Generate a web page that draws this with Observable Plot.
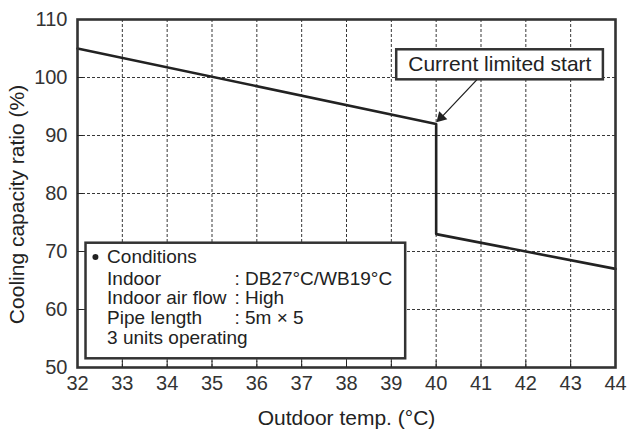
<!DOCTYPE html>
<html>
<head>
<meta charset="utf-8">
<script src="https://cdn.jsdelivr.net/npm/d3@7"></script>
<script src="https://cdn.jsdelivr.net/npm/@observablehq/plot@0.6"></script>
<style>
  html, body { margin: 0; padding: 0; background: #fff; }
  #chart svg { display: block; }
</style>
</head>
<body>
<div id="chart"></div>
<script>
// ---- data ----
const outdoorTemp = [32, 40, 40, 44];
const capacityRatio = [105, 92, 73, 67];
const xTicks = [32, 33, 34, 35, 36, 37, 38, 39, 40, 41, 42, 43, 44];
const yTicks = [50, 60, 70, 80, 90, 100, 110];
const annotationText = ["Current limited start"];
const conditionsTitle = ["Conditions"];
const conditionLabels = ["Indoor", "Indoor air flow", "Pipe length", "3 units operating"];
const conditionValues = [": DB27°C/WB19°C", ": High", ": 5m × 5", ""];
const xLabel = "Outdoor temp. (°C)";
const yLabel = "Cooling capacity ratio (%)";

const series = outdoorTemp.map((t, i) => ({temp: t, ratio: capacityRatio[i]}));
const ink = "#222";
const font = "'Liberation Sans', Arial, Helvetica, sans-serif";

const chart = Plot.plot({
  width: 628,
  height: 432,
  marginLeft: 77,
  marginRight: 13,
  marginTop: 19,
  marginBottom: 65,
  style: {fontFamily: font, color: ink, background: "#fff"},
  x: {domain: [32, 44], ticks: xTicks, label: null},
  y: {domain: [50, 110], ticks: yTicks, label: null},
  marks: [
    Plot.gridX(xTicks, {stroke: "#222", strokeOpacity: 0.9, strokeWidth: 1, strokeDasharray: "3,2"}),
    Plot.gridY(yTicks, {stroke: "#222", strokeOpacity: 0.9, strokeWidth: 1, strokeDasharray: "3,2"}),
    Plot.line(series, {x: "temp", y: "ratio", stroke: ink, strokeWidth: 2.6}),
    // conditions box
    Plot.rect(conditionsTitle, {x1: 32.19, x2: 39.32, y1: 51.5, y2: 71.43, fill: "#fff", stroke: "#333", strokeWidth: 2.5}),
    Plot.dot(conditionsTitle, {x: 32.40, y: 69.05, r: 3, fill: ink, stroke: null}),
    Plot.text(conditionsTitle, {x: 32.66, y: 68.0, text: d => d, textAnchor: "start", lineAnchor: "bottom", fontSize: 19, fill: ink}),
    Plot.text(conditionLabels, {x: 32.66, y: (d, i) => 64.3 - i * 3.4, text: d => d, textAnchor: "start", lineAnchor: "bottom", fontSize: 19, fill: ink}),
    Plot.text(conditionValues, {x: 35.50, y: (d, i) => 64.3 - i * 3.4, text: d => d, textAnchor: "start", lineAnchor: "bottom", fontSize: 19, fill: ink}),
    // annotation box
    Plot.rect(annotationText, {x1: 39.12, x2: 43.73, y1: 99.6, y2: 104.78, fill: "#fff", stroke: "#333", strokeWidth: 2.5}),
    Plot.text(annotationText, {x: 41.42, y: 101.2, text: d => d, textAnchor: "middle", lineAnchor: "bottom", fontSize: 21, fill: ink}),
    Plot.arrow(annotationText, {x1: 40.90, y1: 99.55, x2: 40.11, y2: 93.09, stroke: ink, strokeWidth: 1.3, headLength: 0}),
    Plot.dot(annotationText, {x: 40.108, y: 93.09, symbol: "triangle", r: 4.2, rotate: 224, fill: ink, stroke: null}),
    // frame and inward ticks
    Plot.frame({stroke: "#333", strokeWidth: 2.6}),
    Plot.ruleX(xTicks.slice(1, -1), {x: d => d, y1: 50, y2: 51.1, stroke: ink, strokeWidth: 1}),
    Plot.ruleY(yTicks.slice(1, -1), {y: d => d, x1: 32, x2: 32.14, stroke: ink, strokeWidth: 1}),
    // axes
    Plot.axisX(xTicks, {tickSize: 0, tickPadding: 8, fontSize: 20, fill: "#333", label: null}),
    Plot.axisY(yTicks, {tickSize: 0, tickPadding: 10, fontSize: 20, fill: "#333", label: null}),
    Plot.text([xLabel], {frameAnchor: "bottom", dy: 57, text: d => d, fontSize: 21, fill: ink, lineAnchor: "bottom"}),
    Plot.text([yLabel], {y: 78.1, frameAnchor: "left", dx: -60, rotate: -90, text: d => d, fontSize: 21, fill: ink, textAnchor: "middle", lineAnchor: "middle"})
  ]
});
document.getElementById("chart").appendChild(chart);
</script>
</body>
</html>
